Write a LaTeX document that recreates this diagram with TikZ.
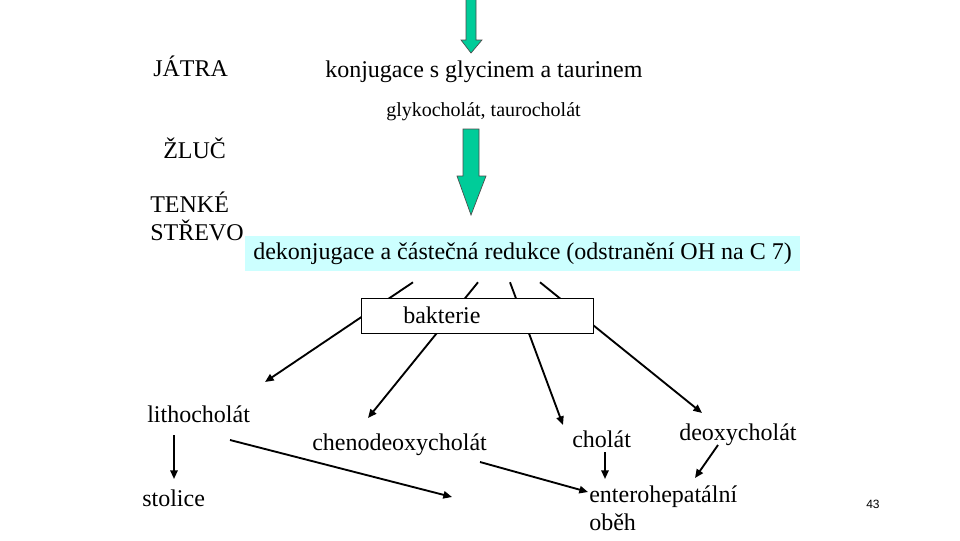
\documentclass[tikz,border=0pt]{standalone}
\usepackage{fontspec}
\setmainfont{Liberation Serif}
\newfontfamily\numfont{Liberation Sans}
\usetikzlibrary{calc,arrows.meta}
\definecolor{arrowgreen}{HTML}{00CC99}
\definecolor{boxcyan}{HTML}{CCFFFF}
\begin{document}
\begin{tikzpicture}[x=0.75pt,y=-0.75pt,
  lbl/.style={inner sep=0pt, anchor=base west, font=\fontsize{18}{21}\selectfont},
  small/.style={inner sep=0pt, anchor=base west, font=\fontsize{15}{18}\selectfont},
  arr/.style={line width=1.4pt, -{Triangle[length=6.5pt,width=5.5pt]}},
  greenarrow/.style={fill=arrowgreen, draw=black!70, line width=0.5pt},
  cyanbox/.style={fill=boxcyan, inner sep=0pt, minimum width=416.25pt, minimum height=26.25pt, font=\fontsize{18}{21}\selectfont},
  baktbox/.style={fill=white, draw=black, line width=0.7pt, inner sep=0pt, minimum width=174pt, minimum height=26.25pt}]
\fill[white] (0,0) rectangle (960,540);
\useasboundingbox (0,0) rectangle (960,540);

% green arrows
\draw[greenarrow] (466,-2) -- (476,-2) -- (476,40) -- (482,40) -- (471,53) -- (461,40) -- (466,40) -- cycle;
\draw[greenarrow] (463,129) -- (479,129) -- (479,176) -- (486,176) -- (471,215) -- (457,176) -- (463,176) -- cycle;

% labels
\node[lbl] (jatra) at (153,76) {JÁTRA};
\node[lbl] (konj) at (325,77) {konjugace s glycinem a taurinem};
\node[small] (glyko) at (386,116) {glykocholát, taurocholát};
\node[lbl] (zluc) at (163,158) {ŽLUČ};
\node[lbl] (tenke) at (150,212) {TENKÉ};
\node[lbl] (strevo) at (150,240) {STŘEVO};

\node[cyanbox] (dek) at (522.5,253.5) {dekonjugace a částečná redukce (odstranění OH na C 7)};

\node[lbl] (litho) at (147,422) {lithocholát};
\node[lbl] (chen) at (312,450) {chenodeoxycholát};
\node[lbl] (chol) at (572,447) {cholát};
\node[lbl] (deoxy) at (679,440) {deoxycholát};
\node[lbl] (stol) at (142,506) {stolice};
\node[lbl] (entero) at (589,502) {enterohepatální};
\node[lbl] (obeh) at (589,530) {oběh};
\node[inner sep=0pt, anchor=base west, font=\numfont\fontsize{9}{11}\selectfont] (num) at (866,508) {43};

% arrows from the dekonjugace step through the bacteria box
\coordinate (s1) at ($(dek.south)+(-109.5,11)$);
\coordinate (s2) at ($(dek.south)+(-44.5,11)$);
\coordinate (s3) at ($(dek.south)+(-12.5,11)$);
\coordinate (s4) at ($(dek.south)+(17.5,11)$);
\draw[arr] (s1) -- ($(litho.base west)+(118,-40)$);
\draw[arr] (s2) -- ($(chen.base west)+(56,-32)$);
\draw[arr] (s3) -- ($(chol.base west)+(-9,-22)$);
\draw[arr] (s4) -- ($(deoxy.base west)+(23,-27)$);

\node[baktbox] (bakt) at (477,315.5) {};
\node[lbl] (baktlbl) at (403,323) {bakterie};

% lower arrows
\coordinate (free) at (452,497);
\draw[arr] ($(litho.base west)+(27,13)$) -- ($(stol.base west)+(32,-27)$);
\draw[arr] ($(litho.base west)+(83,18)$) -- (free);
\draw[arr] ($(chen.base west)+(168,12)$) -- ($(entero.base west)+(-1,-10)$);
\draw[arr] ($(chol.base west)+(33,5)$) -- ($(entero.base west)+(16,-23)$);
\draw[arr] ($(deoxy.base west)+(39,5)$) -- ($(entero.base west)+(106,-24)$);
\end{tikzpicture}
\end{document}
